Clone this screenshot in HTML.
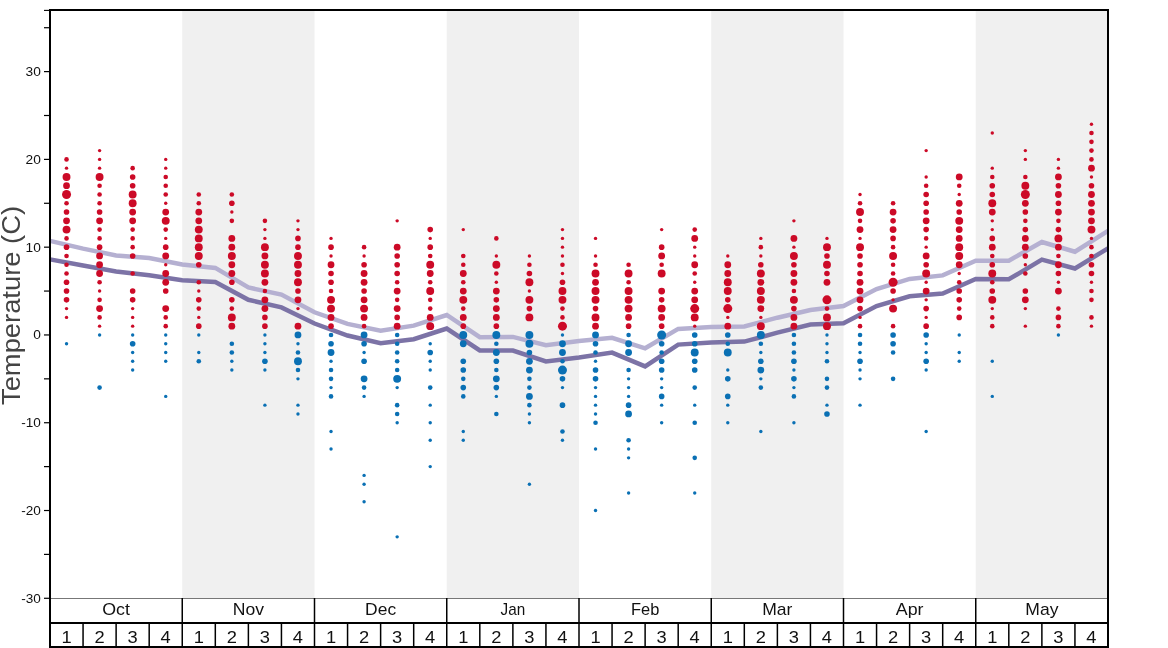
<!DOCTYPE html><html><head><meta charset="utf-8"><style>html,body{margin:0;padding:0;background:#fff;}svg{display:block;will-change:transform;}text{font-family:"Liberation Sans",sans-serif;}</style></head><body>
<svg width="1168" height="648" viewBox="0 0 1168 648">
<rect x="0" y="0" width="1168" height="648" fill="#fff"/>
<rect x="182.25" y="10" width="132.25" height="588" fill="#f0f0f0"/>
<rect x="446.75" y="10" width="132.25" height="588" fill="#f0f0f0"/>
<rect x="711.25" y="10" width="132.25" height="588" fill="#f0f0f0"/>
<rect x="975.75" y="10" width="132.25" height="588" fill="#f0f0f0"/>
<polyline points="50.00,240.90 83.06,248.60 116.12,255.40 149.19,258.00 182.25,264.40 215.31,267.90 248.38,287.50 281.44,294.60 314.50,312.30 347.56,323.90 380.62,330.80 413.69,325.60 446.75,315.00 479.81,337.20 512.88,336.90 545.94,345.30 579.00,341.00 612.06,337.80 645.12,348.30 678.19,328.90 711.25,327.00 744.31,326.50 777.38,317.70 810.44,310.00 843.50,306.10 876.56,289.10 909.62,278.90 942.69,275.40 975.75,260.80 1008.81,260.70 1041.88,242.00 1074.94,251.70 1108.00,230.80" fill="none" stroke="#b5b0d1" stroke-width="4.5" stroke-linejoin="miter"/>
<polyline points="50.00,259.40 83.06,265.50 116.12,271.50 149.19,275.30 182.25,280.20 215.31,282.00 248.38,299.80 281.44,307.40 314.50,323.50 347.56,335.50 380.62,343.30 413.69,339.20 446.75,328.50 479.81,350.40 512.88,350.60 545.94,361.40 579.00,357.50 612.06,352.60 645.12,366.40 678.19,344.60 711.25,342.40 744.31,341.60 777.38,332.70 810.44,324.50 843.50,323.20 876.56,306.00 909.62,296.30 942.69,293.60 975.75,279.00 1008.81,279.30 1041.88,259.60 1074.94,268.50 1108.00,248.30" fill="none" stroke="#7c73a6" stroke-width="4.5" stroke-linejoin="miter"/>
<circle cx="66.53" cy="159.39" r="2.3" fill="#cc0a27"/>
<circle cx="66.53" cy="168.17" r="1.7" fill="#cc0a27"/>
<circle cx="66.53" cy="176.95" r="3.95" fill="#cc0a27"/>
<circle cx="66.53" cy="185.72" r="3.4" fill="#cc0a27"/>
<circle cx="66.53" cy="194.50" r="4.5" fill="#cc0a27"/>
<circle cx="66.53" cy="203.28" r="2.3" fill="#cc0a27"/>
<circle cx="66.53" cy="212.06" r="2.8" fill="#cc0a27"/>
<circle cx="66.53" cy="220.84" r="3.4" fill="#cc0a27"/>
<circle cx="66.53" cy="229.61" r="3.95" fill="#cc0a27"/>
<circle cx="66.53" cy="238.39" r="2.3" fill="#cc0a27"/>
<circle cx="66.53" cy="247.17" r="2.8" fill="#cc0a27"/>
<circle cx="66.53" cy="255.95" r="2.3" fill="#cc0a27"/>
<circle cx="66.53" cy="264.73" r="2.3" fill="#cc0a27"/>
<circle cx="66.53" cy="273.50" r="2.3" fill="#cc0a27"/>
<circle cx="66.53" cy="282.28" r="2.8" fill="#cc0a27"/>
<circle cx="66.53" cy="291.06" r="2.8" fill="#cc0a27"/>
<circle cx="66.53" cy="299.84" r="2.8" fill="#cc0a27"/>
<circle cx="66.53" cy="308.62" r="1.7" fill="#cc0a27"/>
<circle cx="66.53" cy="317.39" r="1.7" fill="#cc0a27"/>
<circle cx="66.53" cy="343.73" r="1.7" fill="#0a70b4"/>
<circle cx="99.59" cy="150.61" r="1.7" fill="#cc0a27"/>
<circle cx="99.59" cy="159.39" r="1.7" fill="#cc0a27"/>
<circle cx="99.59" cy="168.17" r="1.7" fill="#cc0a27"/>
<circle cx="99.59" cy="176.95" r="3.95" fill="#cc0a27"/>
<circle cx="99.59" cy="185.72" r="2.3" fill="#cc0a27"/>
<circle cx="99.59" cy="194.50" r="2.3" fill="#cc0a27"/>
<circle cx="99.59" cy="203.28" r="2.3" fill="#cc0a27"/>
<circle cx="99.59" cy="212.06" r="2.8" fill="#cc0a27"/>
<circle cx="99.59" cy="220.84" r="3.4" fill="#cc0a27"/>
<circle cx="99.59" cy="229.61" r="2.3" fill="#cc0a27"/>
<circle cx="99.59" cy="238.39" r="2.3" fill="#cc0a27"/>
<circle cx="99.59" cy="247.17" r="2.8" fill="#cc0a27"/>
<circle cx="99.59" cy="255.95" r="3.4" fill="#cc0a27"/>
<circle cx="99.59" cy="264.73" r="3.4" fill="#cc0a27"/>
<circle cx="99.59" cy="273.50" r="3.4" fill="#cc0a27"/>
<circle cx="99.59" cy="282.28" r="2.3" fill="#cc0a27"/>
<circle cx="99.59" cy="291.06" r="1.7" fill="#cc0a27"/>
<circle cx="99.59" cy="299.84" r="2.3" fill="#cc0a27"/>
<circle cx="99.59" cy="308.62" r="3.4" fill="#cc0a27"/>
<circle cx="99.59" cy="317.39" r="2.3" fill="#cc0a27"/>
<circle cx="99.59" cy="326.17" r="1.7" fill="#cc0a27"/>
<circle cx="99.59" cy="334.95" r="1.7" fill="#0a70b4"/>
<circle cx="99.59" cy="387.62" r="2.3" fill="#0a70b4"/>
<circle cx="132.66" cy="168.17" r="2.3" fill="#cc0a27"/>
<circle cx="132.66" cy="176.95" r="2.8" fill="#cc0a27"/>
<circle cx="132.66" cy="185.72" r="2.8" fill="#cc0a27"/>
<circle cx="132.66" cy="194.50" r="3.95" fill="#cc0a27"/>
<circle cx="132.66" cy="203.28" r="3.95" fill="#cc0a27"/>
<circle cx="132.66" cy="212.06" r="3.4" fill="#cc0a27"/>
<circle cx="132.66" cy="220.84" r="3.4" fill="#cc0a27"/>
<circle cx="132.66" cy="229.61" r="2.3" fill="#cc0a27"/>
<circle cx="132.66" cy="238.39" r="2.3" fill="#cc0a27"/>
<circle cx="132.66" cy="247.17" r="2.3" fill="#cc0a27"/>
<circle cx="132.66" cy="255.95" r="2.8" fill="#cc0a27"/>
<circle cx="132.66" cy="273.50" r="2.3" fill="#cc0a27"/>
<circle cx="132.66" cy="291.06" r="2.8" fill="#cc0a27"/>
<circle cx="132.66" cy="299.84" r="2.8" fill="#cc0a27"/>
<circle cx="132.66" cy="308.62" r="1.7" fill="#cc0a27"/>
<circle cx="132.66" cy="317.39" r="1.7" fill="#cc0a27"/>
<circle cx="132.66" cy="326.17" r="1.7" fill="#cc0a27"/>
<circle cx="132.66" cy="334.95" r="1.7" fill="#0a70b4"/>
<circle cx="132.66" cy="343.73" r="2.8" fill="#0a70b4"/>
<circle cx="132.66" cy="352.51" r="1.7" fill="#0a70b4"/>
<circle cx="132.66" cy="361.28" r="1.7" fill="#0a70b4"/>
<circle cx="132.66" cy="370.06" r="1.7" fill="#0a70b4"/>
<circle cx="165.72" cy="159.39" r="1.7" fill="#cc0a27"/>
<circle cx="165.72" cy="168.17" r="1.7" fill="#cc0a27"/>
<circle cx="165.72" cy="176.95" r="2.3" fill="#cc0a27"/>
<circle cx="165.72" cy="185.72" r="2.3" fill="#cc0a27"/>
<circle cx="165.72" cy="194.50" r="2.3" fill="#cc0a27"/>
<circle cx="165.72" cy="203.28" r="1.7" fill="#cc0a27"/>
<circle cx="165.72" cy="212.06" r="3.4" fill="#cc0a27"/>
<circle cx="165.72" cy="220.84" r="3.95" fill="#cc0a27"/>
<circle cx="165.72" cy="229.61" r="2.3" fill="#cc0a27"/>
<circle cx="165.72" cy="238.39" r="1.7" fill="#cc0a27"/>
<circle cx="165.72" cy="247.17" r="2.8" fill="#cc0a27"/>
<circle cx="165.72" cy="255.95" r="3.4" fill="#cc0a27"/>
<circle cx="165.72" cy="264.73" r="1.7" fill="#cc0a27"/>
<circle cx="165.72" cy="273.50" r="3.4" fill="#cc0a27"/>
<circle cx="165.72" cy="282.28" r="3.4" fill="#cc0a27"/>
<circle cx="165.72" cy="291.06" r="2.8" fill="#cc0a27"/>
<circle cx="165.72" cy="308.62" r="3.4" fill="#cc0a27"/>
<circle cx="165.72" cy="317.39" r="2.3" fill="#cc0a27"/>
<circle cx="165.72" cy="326.17" r="2.3" fill="#cc0a27"/>
<circle cx="165.72" cy="334.95" r="1.7" fill="#0a70b4"/>
<circle cx="165.72" cy="343.73" r="1.7" fill="#0a70b4"/>
<circle cx="165.72" cy="352.51" r="1.7" fill="#0a70b4"/>
<circle cx="165.72" cy="361.28" r="1.7" fill="#0a70b4"/>
<circle cx="165.72" cy="396.40" r="1.7" fill="#0a70b4"/>
<circle cx="198.78" cy="194.50" r="2.3" fill="#cc0a27"/>
<circle cx="198.78" cy="203.28" r="2.3" fill="#cc0a27"/>
<circle cx="198.78" cy="212.06" r="3.4" fill="#cc0a27"/>
<circle cx="198.78" cy="220.84" r="3.4" fill="#cc0a27"/>
<circle cx="198.78" cy="229.61" r="3.95" fill="#cc0a27"/>
<circle cx="198.78" cy="238.39" r="3.95" fill="#cc0a27"/>
<circle cx="198.78" cy="247.17" r="3.95" fill="#cc0a27"/>
<circle cx="198.78" cy="255.95" r="3.95" fill="#cc0a27"/>
<circle cx="198.78" cy="264.73" r="2.8" fill="#cc0a27"/>
<circle cx="198.78" cy="282.28" r="2.3" fill="#cc0a27"/>
<circle cx="198.78" cy="291.06" r="1.7" fill="#cc0a27"/>
<circle cx="198.78" cy="299.84" r="2.8" fill="#cc0a27"/>
<circle cx="198.78" cy="308.62" r="2.3" fill="#cc0a27"/>
<circle cx="198.78" cy="317.39" r="1.7" fill="#cc0a27"/>
<circle cx="198.78" cy="326.17" r="2.8" fill="#cc0a27"/>
<circle cx="198.78" cy="334.95" r="1.7" fill="#0a70b4"/>
<circle cx="198.78" cy="352.51" r="1.7" fill="#0a70b4"/>
<circle cx="198.78" cy="361.28" r="2.3" fill="#0a70b4"/>
<circle cx="231.84" cy="194.50" r="2.3" fill="#cc0a27"/>
<circle cx="231.84" cy="203.28" r="2.8" fill="#cc0a27"/>
<circle cx="231.84" cy="212.06" r="1.7" fill="#cc0a27"/>
<circle cx="231.84" cy="220.84" r="2.3" fill="#cc0a27"/>
<circle cx="231.84" cy="238.39" r="3.4" fill="#cc0a27"/>
<circle cx="231.84" cy="247.17" r="3.4" fill="#cc0a27"/>
<circle cx="231.84" cy="255.95" r="3.95" fill="#cc0a27"/>
<circle cx="231.84" cy="264.73" r="3.4" fill="#cc0a27"/>
<circle cx="231.84" cy="273.50" r="3.4" fill="#cc0a27"/>
<circle cx="231.84" cy="282.28" r="2.8" fill="#cc0a27"/>
<circle cx="231.84" cy="299.84" r="2.8" fill="#cc0a27"/>
<circle cx="231.84" cy="308.62" r="2.3" fill="#cc0a27"/>
<circle cx="231.84" cy="317.39" r="3.95" fill="#cc0a27"/>
<circle cx="231.84" cy="326.17" r="3.4" fill="#cc0a27"/>
<circle cx="231.84" cy="343.73" r="2.3" fill="#0a70b4"/>
<circle cx="231.84" cy="352.51" r="2.3" fill="#0a70b4"/>
<circle cx="231.84" cy="361.28" r="1.7" fill="#0a70b4"/>
<circle cx="231.84" cy="370.06" r="1.7" fill="#0a70b4"/>
<circle cx="264.91" cy="220.84" r="2.3" fill="#cc0a27"/>
<circle cx="264.91" cy="229.61" r="1.7" fill="#cc0a27"/>
<circle cx="264.91" cy="238.39" r="1.7" fill="#cc0a27"/>
<circle cx="264.91" cy="247.17" r="3.95" fill="#cc0a27"/>
<circle cx="264.91" cy="255.95" r="3.4" fill="#cc0a27"/>
<circle cx="264.91" cy="264.73" r="3.95" fill="#cc0a27"/>
<circle cx="264.91" cy="273.50" r="3.95" fill="#cc0a27"/>
<circle cx="264.91" cy="282.28" r="3.4" fill="#cc0a27"/>
<circle cx="264.91" cy="291.06" r="2.3" fill="#cc0a27"/>
<circle cx="264.91" cy="299.84" r="3.4" fill="#cc0a27"/>
<circle cx="264.91" cy="308.62" r="3.4" fill="#cc0a27"/>
<circle cx="264.91" cy="317.39" r="2.8" fill="#cc0a27"/>
<circle cx="264.91" cy="326.17" r="2.8" fill="#cc0a27"/>
<circle cx="264.91" cy="334.95" r="1.7" fill="#0a70b4"/>
<circle cx="264.91" cy="343.73" r="1.7" fill="#0a70b4"/>
<circle cx="264.91" cy="352.51" r="1.7" fill="#0a70b4"/>
<circle cx="264.91" cy="361.28" r="2.8" fill="#0a70b4"/>
<circle cx="264.91" cy="370.06" r="1.7" fill="#0a70b4"/>
<circle cx="264.91" cy="405.17" r="1.7" fill="#0a70b4"/>
<circle cx="297.97" cy="220.84" r="1.7" fill="#cc0a27"/>
<circle cx="297.97" cy="229.61" r="1.7" fill="#cc0a27"/>
<circle cx="297.97" cy="238.39" r="2.8" fill="#cc0a27"/>
<circle cx="297.97" cy="247.17" r="2.8" fill="#cc0a27"/>
<circle cx="297.97" cy="255.95" r="3.95" fill="#cc0a27"/>
<circle cx="297.97" cy="264.73" r="3.95" fill="#cc0a27"/>
<circle cx="297.97" cy="273.50" r="3.4" fill="#cc0a27"/>
<circle cx="297.97" cy="282.28" r="3.95" fill="#cc0a27"/>
<circle cx="297.97" cy="291.06" r="2.8" fill="#cc0a27"/>
<circle cx="297.97" cy="299.84" r="3.4" fill="#cc0a27"/>
<circle cx="297.97" cy="308.62" r="1.7" fill="#cc0a27"/>
<circle cx="297.97" cy="326.17" r="3.4" fill="#cc0a27"/>
<circle cx="297.97" cy="334.95" r="3.4" fill="#0a70b4"/>
<circle cx="297.97" cy="343.73" r="1.7" fill="#0a70b4"/>
<circle cx="297.97" cy="352.51" r="2.3" fill="#0a70b4"/>
<circle cx="297.97" cy="361.28" r="3.95" fill="#0a70b4"/>
<circle cx="297.97" cy="370.06" r="2.3" fill="#0a70b4"/>
<circle cx="297.97" cy="378.84" r="1.7" fill="#0a70b4"/>
<circle cx="297.97" cy="405.17" r="1.7" fill="#0a70b4"/>
<circle cx="297.97" cy="413.95" r="1.7" fill="#0a70b4"/>
<circle cx="331.03" cy="238.39" r="1.7" fill="#cc0a27"/>
<circle cx="331.03" cy="247.17" r="2.8" fill="#cc0a27"/>
<circle cx="331.03" cy="255.95" r="1.7" fill="#cc0a27"/>
<circle cx="331.03" cy="264.73" r="3.4" fill="#cc0a27"/>
<circle cx="331.03" cy="273.50" r="2.8" fill="#cc0a27"/>
<circle cx="331.03" cy="282.28" r="2.8" fill="#cc0a27"/>
<circle cx="331.03" cy="291.06" r="2.3" fill="#cc0a27"/>
<circle cx="331.03" cy="299.84" r="3.95" fill="#cc0a27"/>
<circle cx="331.03" cy="308.62" r="3.95" fill="#cc0a27"/>
<circle cx="331.03" cy="317.39" r="3.4" fill="#cc0a27"/>
<circle cx="331.03" cy="326.17" r="2.8" fill="#cc0a27"/>
<circle cx="331.03" cy="334.95" r="2.3" fill="#0a70b4"/>
<circle cx="331.03" cy="343.73" r="2.8" fill="#0a70b4"/>
<circle cx="331.03" cy="352.51" r="3.4" fill="#0a70b4"/>
<circle cx="331.03" cy="361.28" r="1.7" fill="#0a70b4"/>
<circle cx="331.03" cy="370.06" r="2.3" fill="#0a70b4"/>
<circle cx="331.03" cy="378.84" r="2.3" fill="#0a70b4"/>
<circle cx="331.03" cy="387.62" r="1.7" fill="#0a70b4"/>
<circle cx="331.03" cy="396.40" r="2.3" fill="#0a70b4"/>
<circle cx="331.03" cy="431.51" r="1.7" fill="#0a70b4"/>
<circle cx="331.03" cy="449.06" r="1.7" fill="#0a70b4"/>
<circle cx="364.09" cy="247.17" r="2.3" fill="#cc0a27"/>
<circle cx="364.09" cy="255.95" r="1.7" fill="#cc0a27"/>
<circle cx="364.09" cy="264.73" r="2.8" fill="#cc0a27"/>
<circle cx="364.09" cy="273.50" r="3.4" fill="#cc0a27"/>
<circle cx="364.09" cy="282.28" r="3.4" fill="#cc0a27"/>
<circle cx="364.09" cy="291.06" r="2.8" fill="#cc0a27"/>
<circle cx="364.09" cy="299.84" r="3.4" fill="#cc0a27"/>
<circle cx="364.09" cy="308.62" r="3.95" fill="#cc0a27"/>
<circle cx="364.09" cy="317.39" r="3.4" fill="#cc0a27"/>
<circle cx="364.09" cy="326.17" r="2.3" fill="#cc0a27"/>
<circle cx="364.09" cy="334.95" r="3.4" fill="#0a70b4"/>
<circle cx="364.09" cy="343.73" r="2.8" fill="#0a70b4"/>
<circle cx="364.09" cy="352.51" r="1.7" fill="#0a70b4"/>
<circle cx="364.09" cy="361.28" r="2.8" fill="#0a70b4"/>
<circle cx="364.09" cy="378.84" r="3.4" fill="#0a70b4"/>
<circle cx="364.09" cy="387.62" r="2.3" fill="#0a70b4"/>
<circle cx="364.09" cy="396.40" r="1.7" fill="#0a70b4"/>
<circle cx="364.09" cy="475.40" r="1.7" fill="#0a70b4"/>
<circle cx="364.09" cy="484.18" r="1.7" fill="#0a70b4"/>
<circle cx="364.09" cy="501.73" r="1.7" fill="#0a70b4"/>
<circle cx="397.16" cy="220.84" r="1.7" fill="#cc0a27"/>
<circle cx="397.16" cy="247.17" r="3.4" fill="#cc0a27"/>
<circle cx="397.16" cy="255.95" r="2.8" fill="#cc0a27"/>
<circle cx="397.16" cy="264.73" r="2.8" fill="#cc0a27"/>
<circle cx="397.16" cy="273.50" r="2.8" fill="#cc0a27"/>
<circle cx="397.16" cy="282.28" r="2.3" fill="#cc0a27"/>
<circle cx="397.16" cy="291.06" r="3.4" fill="#cc0a27"/>
<circle cx="397.16" cy="299.84" r="2.3" fill="#cc0a27"/>
<circle cx="397.16" cy="308.62" r="3.4" fill="#cc0a27"/>
<circle cx="397.16" cy="317.39" r="2.8" fill="#cc0a27"/>
<circle cx="397.16" cy="326.17" r="3.4" fill="#cc0a27"/>
<circle cx="397.16" cy="334.95" r="2.3" fill="#0a70b4"/>
<circle cx="397.16" cy="343.73" r="2.3" fill="#0a70b4"/>
<circle cx="397.16" cy="352.51" r="2.3" fill="#0a70b4"/>
<circle cx="397.16" cy="361.28" r="2.3" fill="#0a70b4"/>
<circle cx="397.16" cy="370.06" r="2.3" fill="#0a70b4"/>
<circle cx="397.16" cy="378.84" r="3.95" fill="#0a70b4"/>
<circle cx="397.16" cy="387.62" r="1.7" fill="#0a70b4"/>
<circle cx="397.16" cy="405.17" r="2.3" fill="#0a70b4"/>
<circle cx="397.16" cy="413.95" r="2.3" fill="#0a70b4"/>
<circle cx="397.16" cy="422.73" r="1.7" fill="#0a70b4"/>
<circle cx="397.16" cy="536.84" r="1.7" fill="#0a70b4"/>
<circle cx="430.22" cy="229.61" r="2.8" fill="#cc0a27"/>
<circle cx="430.22" cy="238.39" r="1.7" fill="#cc0a27"/>
<circle cx="430.22" cy="247.17" r="2.8" fill="#cc0a27"/>
<circle cx="430.22" cy="255.95" r="2.3" fill="#cc0a27"/>
<circle cx="430.22" cy="264.73" r="3.95" fill="#cc0a27"/>
<circle cx="430.22" cy="273.50" r="3.4" fill="#cc0a27"/>
<circle cx="430.22" cy="282.28" r="2.3" fill="#cc0a27"/>
<circle cx="430.22" cy="291.06" r="3.95" fill="#cc0a27"/>
<circle cx="430.22" cy="299.84" r="2.3" fill="#cc0a27"/>
<circle cx="430.22" cy="308.62" r="2.3" fill="#cc0a27"/>
<circle cx="430.22" cy="317.39" r="3.4" fill="#cc0a27"/>
<circle cx="430.22" cy="326.17" r="3.95" fill="#cc0a27"/>
<circle cx="430.22" cy="343.73" r="1.7" fill="#0a70b4"/>
<circle cx="430.22" cy="352.51" r="2.8" fill="#0a70b4"/>
<circle cx="430.22" cy="361.28" r="1.7" fill="#0a70b4"/>
<circle cx="430.22" cy="370.06" r="1.7" fill="#0a70b4"/>
<circle cx="430.22" cy="387.62" r="2.3" fill="#0a70b4"/>
<circle cx="430.22" cy="405.17" r="1.7" fill="#0a70b4"/>
<circle cx="430.22" cy="422.73" r="1.7" fill="#0a70b4"/>
<circle cx="430.22" cy="440.29" r="1.7" fill="#0a70b4"/>
<circle cx="430.22" cy="466.62" r="1.7" fill="#0a70b4"/>
<circle cx="463.28" cy="229.61" r="1.7" fill="#cc0a27"/>
<circle cx="463.28" cy="255.95" r="2.3" fill="#cc0a27"/>
<circle cx="463.28" cy="264.73" r="2.3" fill="#cc0a27"/>
<circle cx="463.28" cy="273.50" r="3.4" fill="#cc0a27"/>
<circle cx="463.28" cy="282.28" r="2.3" fill="#cc0a27"/>
<circle cx="463.28" cy="291.06" r="3.4" fill="#cc0a27"/>
<circle cx="463.28" cy="299.84" r="3.95" fill="#cc0a27"/>
<circle cx="463.28" cy="308.62" r="2.3" fill="#cc0a27"/>
<circle cx="463.28" cy="317.39" r="3.4" fill="#cc0a27"/>
<circle cx="463.28" cy="326.17" r="2.8" fill="#cc0a27"/>
<circle cx="463.28" cy="334.95" r="3.95" fill="#0a70b4"/>
<circle cx="463.28" cy="343.73" r="3.4" fill="#0a70b4"/>
<circle cx="463.28" cy="361.28" r="2.8" fill="#0a70b4"/>
<circle cx="463.28" cy="370.06" r="2.8" fill="#0a70b4"/>
<circle cx="463.28" cy="378.84" r="2.3" fill="#0a70b4"/>
<circle cx="463.28" cy="387.62" r="2.8" fill="#0a70b4"/>
<circle cx="463.28" cy="396.40" r="2.3" fill="#0a70b4"/>
<circle cx="463.28" cy="431.51" r="1.7" fill="#0a70b4"/>
<circle cx="463.28" cy="440.29" r="1.7" fill="#0a70b4"/>
<circle cx="496.34" cy="238.39" r="2.3" fill="#cc0a27"/>
<circle cx="496.34" cy="255.95" r="1.7" fill="#cc0a27"/>
<circle cx="496.34" cy="264.73" r="3.95" fill="#cc0a27"/>
<circle cx="496.34" cy="273.50" r="2.3" fill="#cc0a27"/>
<circle cx="496.34" cy="282.28" r="1.7" fill="#cc0a27"/>
<circle cx="496.34" cy="291.06" r="3.4" fill="#cc0a27"/>
<circle cx="496.34" cy="299.84" r="2.8" fill="#cc0a27"/>
<circle cx="496.34" cy="308.62" r="3.4" fill="#cc0a27"/>
<circle cx="496.34" cy="317.39" r="3.4" fill="#cc0a27"/>
<circle cx="496.34" cy="326.17" r="2.8" fill="#cc0a27"/>
<circle cx="496.34" cy="334.95" r="3.95" fill="#0a70b4"/>
<circle cx="496.34" cy="343.73" r="2.3" fill="#0a70b4"/>
<circle cx="496.34" cy="352.51" r="3.4" fill="#0a70b4"/>
<circle cx="496.34" cy="361.28" r="2.8" fill="#0a70b4"/>
<circle cx="496.34" cy="370.06" r="2.3" fill="#0a70b4"/>
<circle cx="496.34" cy="378.84" r="3.4" fill="#0a70b4"/>
<circle cx="496.34" cy="387.62" r="2.8" fill="#0a70b4"/>
<circle cx="496.34" cy="396.40" r="1.7" fill="#0a70b4"/>
<circle cx="496.34" cy="413.95" r="2.3" fill="#0a70b4"/>
<circle cx="529.41" cy="255.95" r="1.7" fill="#cc0a27"/>
<circle cx="529.41" cy="264.73" r="2.3" fill="#cc0a27"/>
<circle cx="529.41" cy="273.50" r="2.8" fill="#cc0a27"/>
<circle cx="529.41" cy="282.28" r="3.95" fill="#cc0a27"/>
<circle cx="529.41" cy="291.06" r="1.7" fill="#cc0a27"/>
<circle cx="529.41" cy="299.84" r="3.95" fill="#cc0a27"/>
<circle cx="529.41" cy="308.62" r="2.8" fill="#cc0a27"/>
<circle cx="529.41" cy="317.39" r="3.95" fill="#cc0a27"/>
<circle cx="529.41" cy="334.95" r="3.95" fill="#0a70b4"/>
<circle cx="529.41" cy="343.73" r="3.95" fill="#0a70b4"/>
<circle cx="529.41" cy="352.51" r="2.8" fill="#0a70b4"/>
<circle cx="529.41" cy="361.28" r="3.4" fill="#0a70b4"/>
<circle cx="529.41" cy="370.06" r="3.4" fill="#0a70b4"/>
<circle cx="529.41" cy="378.84" r="2.3" fill="#0a70b4"/>
<circle cx="529.41" cy="387.62" r="2.3" fill="#0a70b4"/>
<circle cx="529.41" cy="396.40" r="3.4" fill="#0a70b4"/>
<circle cx="529.41" cy="405.17" r="2.3" fill="#0a70b4"/>
<circle cx="529.41" cy="413.95" r="1.7" fill="#0a70b4"/>
<circle cx="529.41" cy="422.73" r="1.7" fill="#0a70b4"/>
<circle cx="529.41" cy="484.18" r="1.7" fill="#0a70b4"/>
<circle cx="562.47" cy="229.61" r="1.7" fill="#cc0a27"/>
<circle cx="562.47" cy="238.39" r="1.7" fill="#cc0a27"/>
<circle cx="562.47" cy="247.17" r="1.7" fill="#cc0a27"/>
<circle cx="562.47" cy="255.95" r="1.7" fill="#cc0a27"/>
<circle cx="562.47" cy="264.73" r="2.3" fill="#cc0a27"/>
<circle cx="562.47" cy="273.50" r="1.7" fill="#cc0a27"/>
<circle cx="562.47" cy="282.28" r="2.8" fill="#cc0a27"/>
<circle cx="562.47" cy="291.06" r="3.95" fill="#cc0a27"/>
<circle cx="562.47" cy="299.84" r="3.95" fill="#cc0a27"/>
<circle cx="562.47" cy="308.62" r="2.3" fill="#cc0a27"/>
<circle cx="562.47" cy="317.39" r="2.3" fill="#cc0a27"/>
<circle cx="562.47" cy="326.17" r="4.5" fill="#cc0a27"/>
<circle cx="562.47" cy="334.95" r="1.7" fill="#0a70b4"/>
<circle cx="562.47" cy="343.73" r="3.4" fill="#0a70b4"/>
<circle cx="562.47" cy="352.51" r="3.4" fill="#0a70b4"/>
<circle cx="562.47" cy="361.28" r="2.3" fill="#0a70b4"/>
<circle cx="562.47" cy="370.06" r="4.5" fill="#0a70b4"/>
<circle cx="562.47" cy="378.84" r="2.8" fill="#0a70b4"/>
<circle cx="562.47" cy="387.62" r="1.7" fill="#0a70b4"/>
<circle cx="562.47" cy="405.17" r="2.8" fill="#0a70b4"/>
<circle cx="562.47" cy="431.51" r="2.3" fill="#0a70b4"/>
<circle cx="562.47" cy="440.29" r="1.7" fill="#0a70b4"/>
<circle cx="595.53" cy="238.39" r="1.7" fill="#cc0a27"/>
<circle cx="595.53" cy="255.95" r="1.7" fill="#cc0a27"/>
<circle cx="595.53" cy="264.73" r="2.3" fill="#cc0a27"/>
<circle cx="595.53" cy="273.50" r="3.95" fill="#cc0a27"/>
<circle cx="595.53" cy="282.28" r="3.4" fill="#cc0a27"/>
<circle cx="595.53" cy="291.06" r="3.95" fill="#cc0a27"/>
<circle cx="595.53" cy="299.84" r="3.95" fill="#cc0a27"/>
<circle cx="595.53" cy="308.62" r="2.8" fill="#cc0a27"/>
<circle cx="595.53" cy="317.39" r="3.95" fill="#cc0a27"/>
<circle cx="595.53" cy="326.17" r="3.4" fill="#cc0a27"/>
<circle cx="595.53" cy="334.95" r="3.4" fill="#0a70b4"/>
<circle cx="595.53" cy="343.73" r="2.8" fill="#0a70b4"/>
<circle cx="595.53" cy="352.51" r="2.3" fill="#0a70b4"/>
<circle cx="595.53" cy="361.28" r="1.7" fill="#0a70b4"/>
<circle cx="595.53" cy="370.06" r="2.8" fill="#0a70b4"/>
<circle cx="595.53" cy="378.84" r="2.8" fill="#0a70b4"/>
<circle cx="595.53" cy="387.62" r="1.7" fill="#0a70b4"/>
<circle cx="595.53" cy="396.40" r="1.7" fill="#0a70b4"/>
<circle cx="595.53" cy="405.17" r="1.7" fill="#0a70b4"/>
<circle cx="595.53" cy="413.95" r="1.7" fill="#0a70b4"/>
<circle cx="595.53" cy="422.73" r="2.3" fill="#0a70b4"/>
<circle cx="595.53" cy="449.06" r="1.7" fill="#0a70b4"/>
<circle cx="595.53" cy="510.51" r="1.7" fill="#0a70b4"/>
<circle cx="628.59" cy="264.73" r="2.3" fill="#cc0a27"/>
<circle cx="628.59" cy="273.50" r="3.95" fill="#cc0a27"/>
<circle cx="628.59" cy="282.28" r="2.3" fill="#cc0a27"/>
<circle cx="628.59" cy="291.06" r="3.95" fill="#cc0a27"/>
<circle cx="628.59" cy="299.84" r="3.95" fill="#cc0a27"/>
<circle cx="628.59" cy="308.62" r="3.95" fill="#cc0a27"/>
<circle cx="628.59" cy="317.39" r="3.4" fill="#cc0a27"/>
<circle cx="628.59" cy="326.17" r="2.8" fill="#cc0a27"/>
<circle cx="628.59" cy="334.95" r="2.3" fill="#0a70b4"/>
<circle cx="628.59" cy="343.73" r="3.4" fill="#0a70b4"/>
<circle cx="628.59" cy="352.51" r="3.4" fill="#0a70b4"/>
<circle cx="628.59" cy="370.06" r="2.3" fill="#0a70b4"/>
<circle cx="628.59" cy="378.84" r="1.7" fill="#0a70b4"/>
<circle cx="628.59" cy="387.62" r="1.7" fill="#0a70b4"/>
<circle cx="628.59" cy="396.40" r="1.7" fill="#0a70b4"/>
<circle cx="628.59" cy="405.17" r="2.8" fill="#0a70b4"/>
<circle cx="628.59" cy="413.95" r="3.4" fill="#0a70b4"/>
<circle cx="628.59" cy="440.29" r="2.3" fill="#0a70b4"/>
<circle cx="628.59" cy="449.06" r="1.7" fill="#0a70b4"/>
<circle cx="628.59" cy="457.84" r="1.7" fill="#0a70b4"/>
<circle cx="628.59" cy="492.95" r="1.7" fill="#0a70b4"/>
<circle cx="661.66" cy="229.61" r="1.7" fill="#cc0a27"/>
<circle cx="661.66" cy="247.17" r="2.8" fill="#cc0a27"/>
<circle cx="661.66" cy="255.95" r="3.4" fill="#cc0a27"/>
<circle cx="661.66" cy="264.73" r="2.3" fill="#cc0a27"/>
<circle cx="661.66" cy="273.50" r="3.95" fill="#cc0a27"/>
<circle cx="661.66" cy="291.06" r="3.4" fill="#cc0a27"/>
<circle cx="661.66" cy="299.84" r="2.8" fill="#cc0a27"/>
<circle cx="661.66" cy="308.62" r="3.95" fill="#cc0a27"/>
<circle cx="661.66" cy="317.39" r="3.4" fill="#cc0a27"/>
<circle cx="661.66" cy="326.17" r="2.8" fill="#cc0a27"/>
<circle cx="661.66" cy="334.95" r="4.5" fill="#0a70b4"/>
<circle cx="661.66" cy="343.73" r="2.8" fill="#0a70b4"/>
<circle cx="661.66" cy="352.51" r="2.3" fill="#0a70b4"/>
<circle cx="661.66" cy="361.28" r="2.8" fill="#0a70b4"/>
<circle cx="661.66" cy="370.06" r="2.8" fill="#0a70b4"/>
<circle cx="661.66" cy="378.84" r="1.7" fill="#0a70b4"/>
<circle cx="661.66" cy="387.62" r="1.7" fill="#0a70b4"/>
<circle cx="661.66" cy="396.40" r="2.8" fill="#0a70b4"/>
<circle cx="661.66" cy="405.17" r="1.7" fill="#0a70b4"/>
<circle cx="661.66" cy="422.73" r="1.7" fill="#0a70b4"/>
<circle cx="694.72" cy="229.61" r="2.3" fill="#cc0a27"/>
<circle cx="694.72" cy="238.39" r="3.4" fill="#cc0a27"/>
<circle cx="694.72" cy="247.17" r="1.7" fill="#cc0a27"/>
<circle cx="694.72" cy="255.95" r="1.7" fill="#cc0a27"/>
<circle cx="694.72" cy="264.73" r="3.4" fill="#cc0a27"/>
<circle cx="694.72" cy="273.50" r="2.3" fill="#cc0a27"/>
<circle cx="694.72" cy="282.28" r="1.7" fill="#cc0a27"/>
<circle cx="694.72" cy="291.06" r="3.4" fill="#cc0a27"/>
<circle cx="694.72" cy="299.84" r="3.4" fill="#cc0a27"/>
<circle cx="694.72" cy="308.62" r="4.5" fill="#cc0a27"/>
<circle cx="694.72" cy="317.39" r="3.95" fill="#cc0a27"/>
<circle cx="694.72" cy="326.17" r="1.7" fill="#cc0a27"/>
<circle cx="694.72" cy="334.95" r="2.8" fill="#0a70b4"/>
<circle cx="694.72" cy="343.73" r="2.8" fill="#0a70b4"/>
<circle cx="694.72" cy="352.51" r="3.95" fill="#0a70b4"/>
<circle cx="694.72" cy="361.28" r="2.8" fill="#0a70b4"/>
<circle cx="694.72" cy="370.06" r="2.8" fill="#0a70b4"/>
<circle cx="694.72" cy="387.62" r="2.3" fill="#0a70b4"/>
<circle cx="694.72" cy="405.17" r="1.7" fill="#0a70b4"/>
<circle cx="694.72" cy="422.73" r="2.3" fill="#0a70b4"/>
<circle cx="694.72" cy="457.84" r="2.3" fill="#0a70b4"/>
<circle cx="694.72" cy="492.95" r="1.7" fill="#0a70b4"/>
<circle cx="727.78" cy="255.95" r="1.7" fill="#cc0a27"/>
<circle cx="727.78" cy="264.73" r="3.4" fill="#cc0a27"/>
<circle cx="727.78" cy="273.50" r="3.4" fill="#cc0a27"/>
<circle cx="727.78" cy="282.28" r="3.95" fill="#cc0a27"/>
<circle cx="727.78" cy="291.06" r="3.95" fill="#cc0a27"/>
<circle cx="727.78" cy="299.84" r="2.8" fill="#cc0a27"/>
<circle cx="727.78" cy="308.62" r="4.5" fill="#cc0a27"/>
<circle cx="727.78" cy="317.39" r="1.7" fill="#cc0a27"/>
<circle cx="727.78" cy="326.17" r="3.4" fill="#cc0a27"/>
<circle cx="727.78" cy="334.95" r="2.8" fill="#0a70b4"/>
<circle cx="727.78" cy="343.73" r="2.3" fill="#0a70b4"/>
<circle cx="727.78" cy="352.51" r="3.95" fill="#0a70b4"/>
<circle cx="727.78" cy="370.06" r="1.7" fill="#0a70b4"/>
<circle cx="727.78" cy="378.84" r="2.8" fill="#0a70b4"/>
<circle cx="727.78" cy="396.40" r="2.8" fill="#0a70b4"/>
<circle cx="727.78" cy="405.17" r="1.7" fill="#0a70b4"/>
<circle cx="727.78" cy="422.73" r="1.7" fill="#0a70b4"/>
<circle cx="760.84" cy="238.39" r="1.7" fill="#cc0a27"/>
<circle cx="760.84" cy="247.17" r="2.3" fill="#cc0a27"/>
<circle cx="760.84" cy="255.95" r="1.7" fill="#cc0a27"/>
<circle cx="760.84" cy="264.73" r="2.8" fill="#cc0a27"/>
<circle cx="760.84" cy="273.50" r="3.95" fill="#cc0a27"/>
<circle cx="760.84" cy="282.28" r="3.4" fill="#cc0a27"/>
<circle cx="760.84" cy="291.06" r="3.95" fill="#cc0a27"/>
<circle cx="760.84" cy="299.84" r="3.95" fill="#cc0a27"/>
<circle cx="760.84" cy="308.62" r="3.4" fill="#cc0a27"/>
<circle cx="760.84" cy="317.39" r="1.7" fill="#cc0a27"/>
<circle cx="760.84" cy="326.17" r="3.95" fill="#cc0a27"/>
<circle cx="760.84" cy="334.95" r="3.95" fill="#0a70b4"/>
<circle cx="760.84" cy="343.73" r="2.3" fill="#0a70b4"/>
<circle cx="760.84" cy="352.51" r="1.7" fill="#0a70b4"/>
<circle cx="760.84" cy="361.28" r="2.8" fill="#0a70b4"/>
<circle cx="760.84" cy="370.06" r="3.4" fill="#0a70b4"/>
<circle cx="760.84" cy="378.84" r="1.7" fill="#0a70b4"/>
<circle cx="760.84" cy="387.62" r="2.3" fill="#0a70b4"/>
<circle cx="760.84" cy="431.51" r="1.7" fill="#0a70b4"/>
<circle cx="793.91" cy="220.84" r="1.7" fill="#cc0a27"/>
<circle cx="793.91" cy="238.39" r="3.4" fill="#cc0a27"/>
<circle cx="793.91" cy="247.17" r="1.7" fill="#cc0a27"/>
<circle cx="793.91" cy="255.95" r="3.95" fill="#cc0a27"/>
<circle cx="793.91" cy="264.73" r="2.8" fill="#cc0a27"/>
<circle cx="793.91" cy="273.50" r="3.4" fill="#cc0a27"/>
<circle cx="793.91" cy="282.28" r="3.4" fill="#cc0a27"/>
<circle cx="793.91" cy="291.06" r="2.3" fill="#cc0a27"/>
<circle cx="793.91" cy="299.84" r="3.95" fill="#cc0a27"/>
<circle cx="793.91" cy="308.62" r="2.8" fill="#cc0a27"/>
<circle cx="793.91" cy="317.39" r="3.4" fill="#cc0a27"/>
<circle cx="793.91" cy="326.17" r="3.4" fill="#cc0a27"/>
<circle cx="793.91" cy="334.95" r="2.3" fill="#0a70b4"/>
<circle cx="793.91" cy="343.73" r="2.3" fill="#0a70b4"/>
<circle cx="793.91" cy="352.51" r="2.3" fill="#0a70b4"/>
<circle cx="793.91" cy="361.28" r="2.8" fill="#0a70b4"/>
<circle cx="793.91" cy="370.06" r="1.7" fill="#0a70b4"/>
<circle cx="793.91" cy="378.84" r="2.8" fill="#0a70b4"/>
<circle cx="793.91" cy="387.62" r="1.7" fill="#0a70b4"/>
<circle cx="793.91" cy="396.40" r="2.3" fill="#0a70b4"/>
<circle cx="793.91" cy="422.73" r="1.7" fill="#0a70b4"/>
<circle cx="826.97" cy="238.39" r="1.7" fill="#cc0a27"/>
<circle cx="826.97" cy="247.17" r="3.95" fill="#cc0a27"/>
<circle cx="826.97" cy="255.95" r="2.8" fill="#cc0a27"/>
<circle cx="826.97" cy="264.73" r="3.95" fill="#cc0a27"/>
<circle cx="826.97" cy="273.50" r="2.8" fill="#cc0a27"/>
<circle cx="826.97" cy="282.28" r="3.4" fill="#cc0a27"/>
<circle cx="826.97" cy="299.84" r="4.5" fill="#cc0a27"/>
<circle cx="826.97" cy="308.62" r="2.3" fill="#cc0a27"/>
<circle cx="826.97" cy="317.39" r="3.95" fill="#cc0a27"/>
<circle cx="826.97" cy="326.17" r="3.95" fill="#cc0a27"/>
<circle cx="826.97" cy="334.95" r="1.7" fill="#0a70b4"/>
<circle cx="826.97" cy="343.73" r="1.7" fill="#0a70b4"/>
<circle cx="826.97" cy="352.51" r="1.7" fill="#0a70b4"/>
<circle cx="826.97" cy="361.28" r="2.3" fill="#0a70b4"/>
<circle cx="826.97" cy="378.84" r="2.3" fill="#0a70b4"/>
<circle cx="826.97" cy="387.62" r="2.3" fill="#0a70b4"/>
<circle cx="826.97" cy="405.17" r="1.7" fill="#0a70b4"/>
<circle cx="826.97" cy="413.95" r="2.8" fill="#0a70b4"/>
<circle cx="860.03" cy="194.50" r="1.7" fill="#cc0a27"/>
<circle cx="860.03" cy="203.28" r="2.3" fill="#cc0a27"/>
<circle cx="860.03" cy="212.06" r="3.95" fill="#cc0a27"/>
<circle cx="860.03" cy="220.84" r="2.3" fill="#cc0a27"/>
<circle cx="860.03" cy="229.61" r="3.4" fill="#cc0a27"/>
<circle cx="860.03" cy="238.39" r="1.7" fill="#cc0a27"/>
<circle cx="860.03" cy="247.17" r="3.95" fill="#cc0a27"/>
<circle cx="860.03" cy="255.95" r="2.8" fill="#cc0a27"/>
<circle cx="860.03" cy="264.73" r="2.8" fill="#cc0a27"/>
<circle cx="860.03" cy="273.50" r="2.8" fill="#cc0a27"/>
<circle cx="860.03" cy="282.28" r="3.4" fill="#cc0a27"/>
<circle cx="860.03" cy="291.06" r="3.4" fill="#cc0a27"/>
<circle cx="860.03" cy="299.84" r="3.4" fill="#cc0a27"/>
<circle cx="860.03" cy="308.62" r="2.8" fill="#cc0a27"/>
<circle cx="860.03" cy="317.39" r="1.7" fill="#cc0a27"/>
<circle cx="860.03" cy="326.17" r="2.3" fill="#cc0a27"/>
<circle cx="860.03" cy="334.95" r="2.3" fill="#0a70b4"/>
<circle cx="860.03" cy="343.73" r="2.3" fill="#0a70b4"/>
<circle cx="860.03" cy="352.51" r="1.7" fill="#0a70b4"/>
<circle cx="860.03" cy="361.28" r="2.8" fill="#0a70b4"/>
<circle cx="860.03" cy="370.06" r="1.7" fill="#0a70b4"/>
<circle cx="860.03" cy="378.84" r="1.7" fill="#0a70b4"/>
<circle cx="860.03" cy="405.17" r="1.7" fill="#0a70b4"/>
<circle cx="893.09" cy="203.28" r="2.3" fill="#cc0a27"/>
<circle cx="893.09" cy="212.06" r="3.4" fill="#cc0a27"/>
<circle cx="893.09" cy="220.84" r="2.8" fill="#cc0a27"/>
<circle cx="893.09" cy="229.61" r="3.4" fill="#cc0a27"/>
<circle cx="893.09" cy="238.39" r="2.8" fill="#cc0a27"/>
<circle cx="893.09" cy="247.17" r="2.3" fill="#cc0a27"/>
<circle cx="893.09" cy="255.95" r="3.95" fill="#cc0a27"/>
<circle cx="893.09" cy="264.73" r="2.3" fill="#cc0a27"/>
<circle cx="893.09" cy="273.50" r="2.3" fill="#cc0a27"/>
<circle cx="893.09" cy="282.28" r="4.5" fill="#cc0a27"/>
<circle cx="893.09" cy="291.06" r="2.8" fill="#cc0a27"/>
<circle cx="893.09" cy="299.84" r="1.7" fill="#cc0a27"/>
<circle cx="893.09" cy="308.62" r="3.95" fill="#cc0a27"/>
<circle cx="893.09" cy="326.17" r="2.3" fill="#cc0a27"/>
<circle cx="893.09" cy="334.95" r="2.8" fill="#0a70b4"/>
<circle cx="893.09" cy="343.73" r="2.8" fill="#0a70b4"/>
<circle cx="893.09" cy="352.51" r="2.3" fill="#0a70b4"/>
<circle cx="893.09" cy="378.84" r="2.3" fill="#0a70b4"/>
<circle cx="926.16" cy="150.61" r="1.7" fill="#cc0a27"/>
<circle cx="926.16" cy="176.95" r="1.7" fill="#cc0a27"/>
<circle cx="926.16" cy="185.72" r="2.3" fill="#cc0a27"/>
<circle cx="926.16" cy="194.50" r="2.8" fill="#cc0a27"/>
<circle cx="926.16" cy="203.28" r="2.8" fill="#cc0a27"/>
<circle cx="926.16" cy="212.06" r="2.8" fill="#cc0a27"/>
<circle cx="926.16" cy="220.84" r="3.4" fill="#cc0a27"/>
<circle cx="926.16" cy="229.61" r="2.8" fill="#cc0a27"/>
<circle cx="926.16" cy="238.39" r="2.3" fill="#cc0a27"/>
<circle cx="926.16" cy="247.17" r="1.7" fill="#cc0a27"/>
<circle cx="926.16" cy="255.95" r="3.4" fill="#cc0a27"/>
<circle cx="926.16" cy="264.73" r="2.8" fill="#cc0a27"/>
<circle cx="926.16" cy="273.50" r="3.95" fill="#cc0a27"/>
<circle cx="926.16" cy="282.28" r="1.7" fill="#cc0a27"/>
<circle cx="926.16" cy="291.06" r="3.4" fill="#cc0a27"/>
<circle cx="926.16" cy="299.84" r="1.7" fill="#cc0a27"/>
<circle cx="926.16" cy="308.62" r="2.8" fill="#cc0a27"/>
<circle cx="926.16" cy="317.39" r="1.7" fill="#cc0a27"/>
<circle cx="926.16" cy="326.17" r="2.8" fill="#cc0a27"/>
<circle cx="926.16" cy="334.95" r="2.8" fill="#0a70b4"/>
<circle cx="926.16" cy="343.73" r="1.7" fill="#0a70b4"/>
<circle cx="926.16" cy="352.51" r="1.7" fill="#0a70b4"/>
<circle cx="926.16" cy="361.28" r="2.8" fill="#0a70b4"/>
<circle cx="926.16" cy="370.06" r="1.7" fill="#0a70b4"/>
<circle cx="926.16" cy="431.51" r="1.7" fill="#0a70b4"/>
<circle cx="959.22" cy="176.95" r="3.4" fill="#cc0a27"/>
<circle cx="959.22" cy="185.72" r="2.3" fill="#cc0a27"/>
<circle cx="959.22" cy="194.50" r="1.7" fill="#cc0a27"/>
<circle cx="959.22" cy="203.28" r="3.4" fill="#cc0a27"/>
<circle cx="959.22" cy="212.06" r="2.8" fill="#cc0a27"/>
<circle cx="959.22" cy="220.84" r="3.95" fill="#cc0a27"/>
<circle cx="959.22" cy="229.61" r="3.4" fill="#cc0a27"/>
<circle cx="959.22" cy="238.39" r="3.4" fill="#cc0a27"/>
<circle cx="959.22" cy="247.17" r="3.95" fill="#cc0a27"/>
<circle cx="959.22" cy="255.95" r="3.95" fill="#cc0a27"/>
<circle cx="959.22" cy="264.73" r="3.4" fill="#cc0a27"/>
<circle cx="959.22" cy="273.50" r="1.7" fill="#cc0a27"/>
<circle cx="959.22" cy="282.28" r="2.3" fill="#cc0a27"/>
<circle cx="959.22" cy="291.06" r="2.8" fill="#cc0a27"/>
<circle cx="959.22" cy="299.84" r="2.8" fill="#cc0a27"/>
<circle cx="959.22" cy="308.62" r="2.3" fill="#cc0a27"/>
<circle cx="959.22" cy="317.39" r="2.8" fill="#cc0a27"/>
<circle cx="959.22" cy="334.95" r="1.7" fill="#0a70b4"/>
<circle cx="959.22" cy="352.51" r="1.7" fill="#0a70b4"/>
<circle cx="959.22" cy="361.28" r="1.7" fill="#0a70b4"/>
<circle cx="992.28" cy="133.06" r="1.7" fill="#cc0a27"/>
<circle cx="992.28" cy="168.17" r="1.7" fill="#cc0a27"/>
<circle cx="992.28" cy="176.95" r="2.3" fill="#cc0a27"/>
<circle cx="992.28" cy="185.72" r="2.8" fill="#cc0a27"/>
<circle cx="992.28" cy="194.50" r="2.8" fill="#cc0a27"/>
<circle cx="992.28" cy="203.28" r="3.95" fill="#cc0a27"/>
<circle cx="992.28" cy="212.06" r="3.4" fill="#cc0a27"/>
<circle cx="992.28" cy="220.84" r="1.7" fill="#cc0a27"/>
<circle cx="992.28" cy="229.61" r="1.7" fill="#cc0a27"/>
<circle cx="992.28" cy="238.39" r="2.8" fill="#cc0a27"/>
<circle cx="992.28" cy="247.17" r="3.4" fill="#cc0a27"/>
<circle cx="992.28" cy="255.95" r="2.3" fill="#cc0a27"/>
<circle cx="992.28" cy="264.73" r="2.8" fill="#cc0a27"/>
<circle cx="992.28" cy="273.50" r="3.95" fill="#cc0a27"/>
<circle cx="992.28" cy="282.28" r="2.3" fill="#cc0a27"/>
<circle cx="992.28" cy="291.06" r="2.8" fill="#cc0a27"/>
<circle cx="992.28" cy="299.84" r="3.95" fill="#cc0a27"/>
<circle cx="992.28" cy="308.62" r="1.7" fill="#cc0a27"/>
<circle cx="992.28" cy="317.39" r="2.3" fill="#cc0a27"/>
<circle cx="992.28" cy="326.17" r="2.3" fill="#cc0a27"/>
<circle cx="992.28" cy="361.28" r="1.7" fill="#0a70b4"/>
<circle cx="992.28" cy="396.40" r="1.7" fill="#0a70b4"/>
<circle cx="1025.34" cy="150.61" r="1.7" fill="#cc0a27"/>
<circle cx="1025.34" cy="159.39" r="1.7" fill="#cc0a27"/>
<circle cx="1025.34" cy="176.95" r="2.3" fill="#cc0a27"/>
<circle cx="1025.34" cy="185.72" r="3.95" fill="#cc0a27"/>
<circle cx="1025.34" cy="194.50" r="4.5" fill="#cc0a27"/>
<circle cx="1025.34" cy="203.28" r="3.4" fill="#cc0a27"/>
<circle cx="1025.34" cy="212.06" r="2.8" fill="#cc0a27"/>
<circle cx="1025.34" cy="220.84" r="2.3" fill="#cc0a27"/>
<circle cx="1025.34" cy="229.61" r="2.8" fill="#cc0a27"/>
<circle cx="1025.34" cy="238.39" r="3.4" fill="#cc0a27"/>
<circle cx="1025.34" cy="247.17" r="3.4" fill="#cc0a27"/>
<circle cx="1025.34" cy="255.95" r="2.8" fill="#cc0a27"/>
<circle cx="1025.34" cy="264.73" r="1.7" fill="#cc0a27"/>
<circle cx="1025.34" cy="273.50" r="2.3" fill="#cc0a27"/>
<circle cx="1025.34" cy="291.06" r="2.8" fill="#cc0a27"/>
<circle cx="1025.34" cy="299.84" r="3.4" fill="#cc0a27"/>
<circle cx="1025.34" cy="308.62" r="1.7" fill="#cc0a27"/>
<circle cx="1025.34" cy="326.17" r="1.7" fill="#cc0a27"/>
<circle cx="1058.41" cy="159.39" r="1.7" fill="#cc0a27"/>
<circle cx="1058.41" cy="168.17" r="1.7" fill="#cc0a27"/>
<circle cx="1058.41" cy="176.95" r="3.4" fill="#cc0a27"/>
<circle cx="1058.41" cy="185.72" r="2.8" fill="#cc0a27"/>
<circle cx="1058.41" cy="194.50" r="3.4" fill="#cc0a27"/>
<circle cx="1058.41" cy="203.28" r="2.8" fill="#cc0a27"/>
<circle cx="1058.41" cy="212.06" r="3.4" fill="#cc0a27"/>
<circle cx="1058.41" cy="220.84" r="2.3" fill="#cc0a27"/>
<circle cx="1058.41" cy="229.61" r="2.8" fill="#cc0a27"/>
<circle cx="1058.41" cy="238.39" r="3.95" fill="#cc0a27"/>
<circle cx="1058.41" cy="247.17" r="3.4" fill="#cc0a27"/>
<circle cx="1058.41" cy="255.95" r="2.3" fill="#cc0a27"/>
<circle cx="1058.41" cy="264.73" r="3.4" fill="#cc0a27"/>
<circle cx="1058.41" cy="273.50" r="2.8" fill="#cc0a27"/>
<circle cx="1058.41" cy="282.28" r="1.7" fill="#cc0a27"/>
<circle cx="1058.41" cy="291.06" r="3.4" fill="#cc0a27"/>
<circle cx="1058.41" cy="308.62" r="2.3" fill="#cc0a27"/>
<circle cx="1058.41" cy="317.39" r="2.8" fill="#cc0a27"/>
<circle cx="1058.41" cy="326.17" r="2.3" fill="#cc0a27"/>
<circle cx="1058.41" cy="334.95" r="1.7" fill="#0a70b4"/>
<circle cx="1091.47" cy="124.28" r="1.7" fill="#cc0a27"/>
<circle cx="1091.47" cy="133.06" r="2.3" fill="#cc0a27"/>
<circle cx="1091.47" cy="141.83" r="2.3" fill="#cc0a27"/>
<circle cx="1091.47" cy="150.61" r="2.3" fill="#cc0a27"/>
<circle cx="1091.47" cy="159.39" r="2.3" fill="#cc0a27"/>
<circle cx="1091.47" cy="168.17" r="3.4" fill="#cc0a27"/>
<circle cx="1091.47" cy="176.95" r="1.7" fill="#cc0a27"/>
<circle cx="1091.47" cy="185.72" r="2.8" fill="#cc0a27"/>
<circle cx="1091.47" cy="194.50" r="3.4" fill="#cc0a27"/>
<circle cx="1091.47" cy="203.28" r="3.4" fill="#cc0a27"/>
<circle cx="1091.47" cy="212.06" r="3.4" fill="#cc0a27"/>
<circle cx="1091.47" cy="220.84" r="3.4" fill="#cc0a27"/>
<circle cx="1091.47" cy="229.61" r="3.95" fill="#cc0a27"/>
<circle cx="1091.47" cy="238.39" r="1.7" fill="#cc0a27"/>
<circle cx="1091.47" cy="247.17" r="2.3" fill="#cc0a27"/>
<circle cx="1091.47" cy="255.95" r="2.3" fill="#cc0a27"/>
<circle cx="1091.47" cy="264.73" r="2.8" fill="#cc0a27"/>
<circle cx="1091.47" cy="273.50" r="2.8" fill="#cc0a27"/>
<circle cx="1091.47" cy="282.28" r="1.7" fill="#cc0a27"/>
<circle cx="1091.47" cy="291.06" r="2.3" fill="#cc0a27"/>
<circle cx="1091.47" cy="299.84" r="2.3" fill="#cc0a27"/>
<circle cx="1091.47" cy="317.39" r="2.3" fill="#cc0a27"/>
<circle cx="1091.47" cy="326.17" r="1.7" fill="#cc0a27"/>
<line x1="50" y1="598.5" x2="1108" y2="598.5" stroke="#777" stroke-width="1"/>
<path d="M50,648 L50,10 L1108,10 L1108,648" fill="none" stroke="#000" stroke-width="2"/>
<line x1="50" y1="623" x2="1108" y2="623" stroke="#000" stroke-width="2"/>
<line x1="50" y1="647" x2="1108" y2="647" stroke="#000" stroke-width="2"/>
<line x1="182.25" y1="598" x2="182.25" y2="648" stroke="#000" stroke-width="1.5"/>
<line x1="314.50" y1="598" x2="314.50" y2="648" stroke="#000" stroke-width="1.5"/>
<line x1="446.75" y1="598" x2="446.75" y2="648" stroke="#000" stroke-width="1.5"/>
<line x1="579.00" y1="598" x2="579.00" y2="648" stroke="#000" stroke-width="1.5"/>
<line x1="711.25" y1="598" x2="711.25" y2="648" stroke="#000" stroke-width="1.5"/>
<line x1="843.50" y1="598" x2="843.50" y2="648" stroke="#000" stroke-width="1.5"/>
<line x1="975.75" y1="598" x2="975.75" y2="648" stroke="#000" stroke-width="1.5"/>
<line x1="83.06" y1="623" x2="83.06" y2="648" stroke="#000" stroke-width="1.5"/>
<line x1="116.12" y1="623" x2="116.12" y2="648" stroke="#000" stroke-width="1.5"/>
<line x1="149.19" y1="623" x2="149.19" y2="648" stroke="#000" stroke-width="1.5"/>
<line x1="215.31" y1="623" x2="215.31" y2="648" stroke="#000" stroke-width="1.5"/>
<line x1="248.38" y1="623" x2="248.38" y2="648" stroke="#000" stroke-width="1.5"/>
<line x1="281.44" y1="623" x2="281.44" y2="648" stroke="#000" stroke-width="1.5"/>
<line x1="347.56" y1="623" x2="347.56" y2="648" stroke="#000" stroke-width="1.5"/>
<line x1="380.62" y1="623" x2="380.62" y2="648" stroke="#000" stroke-width="1.5"/>
<line x1="413.69" y1="623" x2="413.69" y2="648" stroke="#000" stroke-width="1.5"/>
<line x1="479.81" y1="623" x2="479.81" y2="648" stroke="#000" stroke-width="1.5"/>
<line x1="512.88" y1="623" x2="512.88" y2="648" stroke="#000" stroke-width="1.5"/>
<line x1="545.94" y1="623" x2="545.94" y2="648" stroke="#000" stroke-width="1.5"/>
<line x1="612.06" y1="623" x2="612.06" y2="648" stroke="#000" stroke-width="1.5"/>
<line x1="645.12" y1="623" x2="645.12" y2="648" stroke="#000" stroke-width="1.5"/>
<line x1="678.19" y1="623" x2="678.19" y2="648" stroke="#000" stroke-width="1.5"/>
<line x1="744.31" y1="623" x2="744.31" y2="648" stroke="#000" stroke-width="1.5"/>
<line x1="777.38" y1="623" x2="777.38" y2="648" stroke="#000" stroke-width="1.5"/>
<line x1="810.44" y1="623" x2="810.44" y2="648" stroke="#000" stroke-width="1.5"/>
<line x1="876.56" y1="623" x2="876.56" y2="648" stroke="#000" stroke-width="1.5"/>
<line x1="909.62" y1="623" x2="909.62" y2="648" stroke="#000" stroke-width="1.5"/>
<line x1="942.69" y1="623" x2="942.69" y2="648" stroke="#000" stroke-width="1.5"/>
<line x1="1008.81" y1="623" x2="1008.81" y2="648" stroke="#000" stroke-width="1.5"/>
<line x1="1041.88" y1="623" x2="1041.88" y2="648" stroke="#000" stroke-width="1.5"/>
<line x1="1074.94" y1="623" x2="1074.94" y2="648" stroke="#000" stroke-width="1.5"/>
<g opacity="0.999">
<text x="102.29" y="614.7" font-size="17" textLength="27.67" lengthAdjust="spacingAndGlyphs" fill="#111">Oct</text>
<text x="232.76" y="614.7" font-size="17" textLength="31.23" lengthAdjust="spacingAndGlyphs" fill="#111">Nov</text>
<text x="365.14" y="614.7" font-size="17" textLength="30.97" lengthAdjust="spacingAndGlyphs" fill="#111">Dec</text>
<text x="500.54" y="614.7" font-size="17" textLength="24.67" lengthAdjust="spacingAndGlyphs" fill="#111">Jan</text>
<text x="630.96" y="614.7" font-size="17" textLength="28.33" lengthAdjust="spacingAndGlyphs" fill="#111">Feb</text>
<text x="762.27" y="614.7" font-size="17" textLength="30.20" lengthAdjust="spacingAndGlyphs" fill="#111">Mar</text>
<text x="895.78" y="614.7" font-size="17" textLength="27.69" lengthAdjust="spacingAndGlyphs" fill="#111">Apr</text>
<text x="1025.33" y="614.7" font-size="17" textLength="33.09" lengthAdjust="spacingAndGlyphs" fill="#111">May</text>
<text x="61.44" y="642.8" font-size="17" textLength="10.19" lengthAdjust="spacingAndGlyphs" fill="#111">1</text>
<text x="94.50" y="642.8" font-size="17" textLength="10.19" lengthAdjust="spacingAndGlyphs" fill="#111">2</text>
<text x="127.56" y="642.8" font-size="17" textLength="10.19" lengthAdjust="spacingAndGlyphs" fill="#111">3</text>
<text x="160.62" y="642.8" font-size="17" textLength="10.19" lengthAdjust="spacingAndGlyphs" fill="#111">4</text>
<text x="193.69" y="642.8" font-size="17" textLength="10.19" lengthAdjust="spacingAndGlyphs" fill="#111">1</text>
<text x="226.75" y="642.8" font-size="17" textLength="10.19" lengthAdjust="spacingAndGlyphs" fill="#111">2</text>
<text x="259.81" y="642.8" font-size="17" textLength="10.19" lengthAdjust="spacingAndGlyphs" fill="#111">3</text>
<text x="292.88" y="642.8" font-size="17" textLength="10.19" lengthAdjust="spacingAndGlyphs" fill="#111">4</text>
<text x="325.94" y="642.8" font-size="17" textLength="10.19" lengthAdjust="spacingAndGlyphs" fill="#111">1</text>
<text x="359.00" y="642.8" font-size="17" textLength="10.19" lengthAdjust="spacingAndGlyphs" fill="#111">2</text>
<text x="392.06" y="642.8" font-size="17" textLength="10.19" lengthAdjust="spacingAndGlyphs" fill="#111">3</text>
<text x="425.12" y="642.8" font-size="17" textLength="10.19" lengthAdjust="spacingAndGlyphs" fill="#111">4</text>
<text x="458.19" y="642.8" font-size="17" textLength="10.19" lengthAdjust="spacingAndGlyphs" fill="#111">1</text>
<text x="491.25" y="642.8" font-size="17" textLength="10.19" lengthAdjust="spacingAndGlyphs" fill="#111">2</text>
<text x="524.31" y="642.8" font-size="17" textLength="10.19" lengthAdjust="spacingAndGlyphs" fill="#111">3</text>
<text x="557.38" y="642.8" font-size="17" textLength="10.19" lengthAdjust="spacingAndGlyphs" fill="#111">4</text>
<text x="590.44" y="642.8" font-size="17" textLength="10.19" lengthAdjust="spacingAndGlyphs" fill="#111">1</text>
<text x="623.50" y="642.8" font-size="17" textLength="10.19" lengthAdjust="spacingAndGlyphs" fill="#111">2</text>
<text x="656.56" y="642.8" font-size="17" textLength="10.19" lengthAdjust="spacingAndGlyphs" fill="#111">3</text>
<text x="689.62" y="642.8" font-size="17" textLength="10.19" lengthAdjust="spacingAndGlyphs" fill="#111">4</text>
<text x="722.69" y="642.8" font-size="17" textLength="10.19" lengthAdjust="spacingAndGlyphs" fill="#111">1</text>
<text x="755.75" y="642.8" font-size="17" textLength="10.19" lengthAdjust="spacingAndGlyphs" fill="#111">2</text>
<text x="788.81" y="642.8" font-size="17" textLength="10.19" lengthAdjust="spacingAndGlyphs" fill="#111">3</text>
<text x="821.88" y="642.8" font-size="17" textLength="10.19" lengthAdjust="spacingAndGlyphs" fill="#111">4</text>
<text x="854.94" y="642.8" font-size="17" textLength="10.19" lengthAdjust="spacingAndGlyphs" fill="#111">1</text>
<text x="888.00" y="642.8" font-size="17" textLength="10.19" lengthAdjust="spacingAndGlyphs" fill="#111">2</text>
<text x="921.06" y="642.8" font-size="17" textLength="10.19" lengthAdjust="spacingAndGlyphs" fill="#111">3</text>
<text x="954.12" y="642.8" font-size="17" textLength="10.19" lengthAdjust="spacingAndGlyphs" fill="#111">4</text>
<text x="987.19" y="642.8" font-size="17" textLength="10.19" lengthAdjust="spacingAndGlyphs" fill="#111">1</text>
<text x="1020.25" y="642.8" font-size="17" textLength="10.19" lengthAdjust="spacingAndGlyphs" fill="#111">2</text>
<text x="1053.31" y="642.8" font-size="17" textLength="10.19" lengthAdjust="spacingAndGlyphs" fill="#111">3</text>
<text x="1086.38" y="642.8" font-size="17" textLength="10.19" lengthAdjust="spacingAndGlyphs" fill="#111">4</text>
<line x1="44" y1="598.29" x2="50" y2="598.29" stroke="#000" stroke-width="1.2"/>
<text x="21.29" y="602.69" font-size="12.7" textLength="19.61" lengthAdjust="spacingAndGlyphs" fill="#111">-30</text>
<line x1="44" y1="554.40" x2="50" y2="554.40" stroke="#000" stroke-width="1.2"/>
<line x1="44" y1="510.51" x2="50" y2="510.51" stroke="#000" stroke-width="1.2"/>
<text x="21.29" y="514.91" font-size="12.7" textLength="19.61" lengthAdjust="spacingAndGlyphs" fill="#111">-20</text>
<line x1="44" y1="466.62" x2="50" y2="466.62" stroke="#000" stroke-width="1.2"/>
<line x1="44" y1="422.73" x2="50" y2="422.73" stroke="#000" stroke-width="1.2"/>
<text x="21.29" y="427.13" font-size="12.7" textLength="19.61" lengthAdjust="spacingAndGlyphs" fill="#111">-10</text>
<line x1="44" y1="378.84" x2="50" y2="378.84" stroke="#000" stroke-width="1.2"/>
<line x1="44" y1="334.95" x2="50" y2="334.95" stroke="#000" stroke-width="1.2"/>
<text x="33.26" y="339.35" font-size="12.7" textLength="7.64" lengthAdjust="spacingAndGlyphs" fill="#111">0</text>
<line x1="44" y1="291.06" x2="50" y2="291.06" stroke="#000" stroke-width="1.2"/>
<line x1="44" y1="247.17" x2="50" y2="247.17" stroke="#000" stroke-width="1.2"/>
<text x="25.62" y="251.57" font-size="12.7" textLength="15.28" lengthAdjust="spacingAndGlyphs" fill="#111">10</text>
<line x1="44" y1="203.28" x2="50" y2="203.28" stroke="#000" stroke-width="1.2"/>
<line x1="44" y1="159.39" x2="50" y2="159.39" stroke="#000" stroke-width="1.2"/>
<text x="25.62" y="163.79" font-size="12.7" textLength="15.28" lengthAdjust="spacingAndGlyphs" fill="#111">20</text>
<line x1="44" y1="115.50" x2="50" y2="115.50" stroke="#000" stroke-width="1.2"/>
<line x1="44" y1="71.61" x2="50" y2="71.61" stroke="#000" stroke-width="1.2"/>
<text x="25.62" y="76.01" font-size="12.7" textLength="15.28" lengthAdjust="spacingAndGlyphs" fill="#111">30</text>
<line x1="44" y1="27.72" x2="50" y2="27.72" stroke="#000" stroke-width="1.2"/>
<line x1="44" y1="10.4" x2="50" y2="10.4" stroke="#000" stroke-width="1.1"/>
<text transform="translate(20,405) rotate(-90)" x="0" y="0" font-size="26" textLength="199" lengthAdjust="spacingAndGlyphs" fill="#444">Temperature (C)</text>
</g>
</svg></body></html>
